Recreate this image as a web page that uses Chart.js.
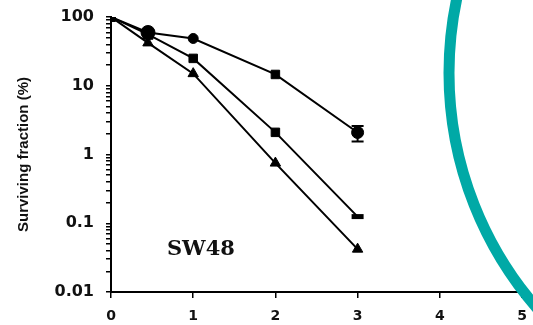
<!DOCTYPE html>
<html>
<head>
<meta charset="utf-8">
<script src="https://cdn.jsdelivr.net/npm/chart.js@4/dist/chart.umd.min.js"></script>
<style>
  html, body { margin: 0; padding: 0; background: #ffffff; }
  #wrap { width: 533px; height: 325px; position: relative; }
</style>
</head>
<body>
<div id="wrap"><canvas id="c" width="533" height="325"></canvas></div>
<script>
// ---- data ----
const doses = [0, 0.45, 1, 2, 3];
const seriesCircle = [100, 59.5, 48.7, 14.6, 2.09];
const seriesSquare = [100, 56, 25, 2.1, 0.125];
const seriesTriangle = [100, 42, 15, 0.75, 0.042];
const circleErrLow = [null, null, null, null, 1.55];
const circleErrHigh = [null, null, null, null, 2.6];
const yTickLabels = [100, 10, 1, 0.1, 0.01];
const xTickLabels = [0, 1, 2, 3, 4, 5];
const panelLabel = 'SW48';
const yTitle = 'Surviving fraction (%)';

function pts(vals) { return doses.map((d, i) => ({ x: d, y: vals[i] })); }

const errorBarPlugin = {
  id: 'errorBars',
  afterDatasetsDraw(chart) {
    const ctx = chart.ctx;
    const xs = chart.scales.x, ys = chart.scales.y;
    ctx.save();
    ctx.strokeStyle = '#000';
    ctx.lineWidth = 2;
    doses.forEach((d, i) => {
      if (circleErrLow[i] == null) return;
      const px = xs.getPixelForValue(d);
      const y1 = ys.getPixelForValue(circleErrLow[i]);
      const y2 = ys.getPixelForValue(circleErrHigh[i]);
      ctx.beginPath();
      ctx.moveTo(px, y1); ctx.lineTo(px, y2);
      ctx.moveTo(px - 6, y1); ctx.lineTo(px + 6, y1);
      ctx.moveTo(px - 6, y2); ctx.lineTo(px + 6, y2);
      ctx.stroke();
    });
    ctx.restore();
  }
};

const decorPlugin = {
  id: 'decor',
  afterDraw(chart) {
    const ctx = chart.ctx;
    const xs = chart.scales.x, ys = chart.scales.y;
    ctx.save();
    // panel label
    ctx.fillStyle = '#111';
    ctx.font = 'bold 21px "DejaVu Serif", "Liberation Serif", serif';
    ctx.textAlign = 'left';
    ctx.textBaseline = 'middle';
    ctx.fillText(panelLabel, xs.getPixelForValue(0.68), ys.getPixelForValue(0.041));
    // decorative teal arc
    ctx.beginPath();
    ctx.arc(807, 73, 358, 0, Math.PI * 2);
    ctx.lineWidth = 11;
    ctx.strokeStyle = '#00A9A6';
    ctx.stroke();
    ctx.restore();
  }
};

function zeroPad(s) { s.paddingTop = 0; s.paddingBottom = 0; s.paddingLeft = 0; s.paddingRight = 0; }

new Chart(document.getElementById('c'), {
  type: 'line',
  data: {
    datasets: [
      {
        data: pts(seriesCircle),
        borderColor: '#000', backgroundColor: '#000', borderWidth: 2,
        pointStyle: ['rect', 'circle', 'circle', 'rect', 'circle'],
        pointRadius: [6, 7, 5, 6, 6],
        pointBorderWidth: 1,
        pointBackgroundColor: '#000', pointBorderColor: '#000',
        tension: 0
      },
      {
        data: pts(seriesSquare),
        borderColor: '#000', backgroundColor: '#000', borderWidth: 2,
        pointStyle: ['rect', 'rect', 'rect', 'rect', 'line'],
        pointRadius: [6, 7, 6, 6, 6],
        pointBorderWidth: [1, 1, 1, 1, 5],
        pointBackgroundColor: '#000', pointBorderColor: '#000',
        tension: 0
      },
      {
        data: pts(seriesTriangle),
        borderColor: '#000', backgroundColor: '#000', borderWidth: 2,
        pointStyle: ['rect', 'triangle', 'triangle', 'triangle', 'triangle'],
        pointRadius: [6, 6, 6, 6, 6],
        pointBorderWidth: 1,
        pointBackgroundColor: '#000', pointBorderColor: '#000',
        tension: 0
      }
    ]
  },
  options: {
    responsive: false,
    animation: false,
    events: [],
    layout: { padding: { left: 0, top: 17, right: 11, bottom: 0 } },
    plugins: { legend: { display: false }, tooltip: { enabled: false } },
    scales: {
      x: {
        type: 'linear',
        min: 0, max: 5,
        afterFit(s) { s.height = 33; zeroPad(s); },
        afterBuildTicks(s) { s.ticks = xTickLabels.map(v => ({ value: v })); },
        grid: { display: true, drawOnChartArea: false, drawTicks: true, tickLength: 6, color: '#000', lineWidth: 1.5 },
        border: { display: true, color: '#000', width: 2 },
        ticks: {
          color: '#111', padding: 10,
          font: { family: '"DejaVu Sans", "Liberation Sans", sans-serif', size: 14, weight: 'bold' },
          callback: v => String(v)
        }
      },
      y: {
        type: 'logarithmic',
        min: 0.01, max: 100,
        afterFit(s) { s.width = 111; zeroPad(s); },
        afterBuildTicks(s) {
          const t = [];
          for (let e = -2; e <= 1; e++) {
            for (let m = 1; m <= 9; m++) t.push({ value: m * Math.pow(10, e) });
          }
          t.push({ value: 100 });
          s.ticks = t;
        },
        grid: { display: true, drawOnChartArea: false, drawTicks: true, tickLength: 5, color: '#000', lineWidth: 1.5 },
        border: { display: true, color: '#000', width: 2 },
        title: {
          display: true, text: yTitle, color: '#111',
          padding: { top: 15, bottom: 0 },
          font: { family: '"Liberation Sans Narrow", "Liberation Sans", sans-serif', size: 15, weight: 'bold' }
        },
        ticks: {
          color: '#111', padding: 12, autoSkip: false,
          font: { family: '"DejaVu Sans", "Liberation Sans", sans-serif', size: 16, weight: 'bold' },
          callback: function (v) {
            const hit = yTickLabels.find(l => Math.abs(l - v) / l < 1e-6);
            return hit !== undefined ? String(hit) : '';
          }
        }
      }
    }
  },
  plugins: [errorBarPlugin, decorPlugin]
});
</script>
</body>
</html>
